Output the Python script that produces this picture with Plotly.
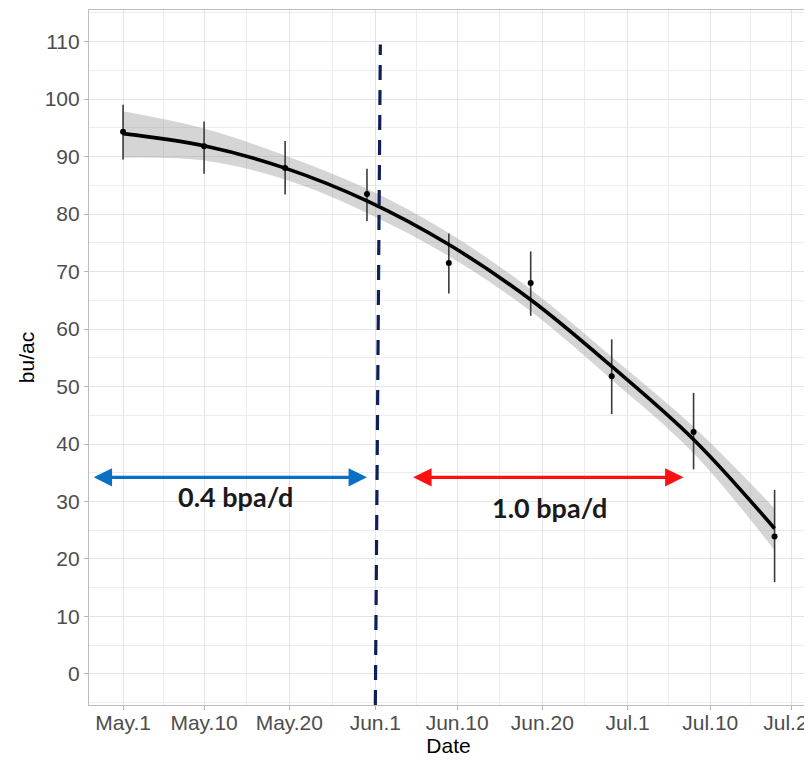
import plotly.graph_objects as go

# ---- data (x = nominal days after May 1, positions) ----
tick_pos = [0, 9.7, 19.9, 30.2, 40.0, 50.2, 60.4, 70.3, 80.0]
tick_labels = ["May.1", "May.10", "May.20", "Jun.1", "Jun.10", "Jun.20", "Jul.1", "Jul.10", "Jul.20"]
minor_pos = [4.85, 14.8, 25.05, 35.1, 45.1, 55.3, 65.35, 75.15]

obs_x = [0, 9.7, 19.4, 29.2, 39.0, 48.8, 58.5, 68.3, 78.0]
obs_y = [94.3, 91.8, 88.0, 83.5, 71.5, 68.0, 51.8, 42.1, 23.9]
obs_lo = [89.5, 87.0, 83.4, 78.8, 66.2, 62.3, 45.2, 35.6, 16.0]
obs_hi = [99.0, 96.1, 92.7, 87.9, 76.6, 73.5, 58.2, 48.9, 32.0]

fit_x = [0, 9.7, 19.4, 29.2, 39.0, 48.8, 58.5, 68.3, 78.0]
fit_y = [94.0, 91.9, 88.0, 82.3, 74.7, 65.1, 53.5, 40.8, 25.3]
fit_lo = [89.8, 89.3, 86.0, 80.2, 72.7, 63.1, 51.2, 38.4, 21.5]
fit_hi = [97.9, 94.9, 90.2, 84.4, 76.7, 66.9, 55.2, 43.0, 28.8]

break_x = [30.2, 30.8]      # dashed line, bottom / top
break_y = [-5.4, 109.5]
arrow_y = 34.2
blue_span = [-3.7, 29.2]
red_span = [34.55, 67.1]
rate_labels = ["0.4 bpa/d", "1.0 bpa/d"]
rate_label_x = [13.5, 51.1]
rate_label_y = [30.8, 28.9]

x_range = [-4.08, 82.0]
y_range = [-5.4, 115.5]

fig = go.Figure()

# confidence band
fig.add_trace(go.Scatter(x=fit_x, y=fit_lo, mode="lines", line=dict(width=0, shape="spline"),
                         hoverinfo="skip"))
fig.add_trace(go.Scatter(x=fit_x, y=fit_hi, mode="lines", line=dict(width=0, shape="spline"),
                         fill="tonexty", fillcolor="rgba(150,150,150,0.40)", hoverinfo="skip"))

# observations with error bars
fig.add_trace(go.Scatter(
    x=obs_x, y=obs_y, mode="markers",
    marker=dict(color="black", size=6),
    error_y=dict(type="data", symmetric=False,
                 array=[h - y for h, y in zip(obs_hi, obs_y)],
                 arrayminus=[y - l for l, y in zip(obs_lo, obs_y)],
                 color="#3a3a3a", thickness=1.6, width=0)))

# fitted curve
fig.add_trace(go.Scatter(x=fit_x, y=fit_y, mode="lines",
                         line=dict(color="black", width=3.6, shape="spline")))

# dashed vertical line
fig.add_shape(type="line", xref="x", yref="y",
              x0=break_x[0], x1=break_x[1], y0=break_y[0], y1=break_y[1],
              line=dict(color="#0f1f5a", width=3.2, dash="15px,10px"))

# double-headed arrows
for span, col in [(blue_span, "#0a70c4"), (red_span, "#ff1010")]:
    fig.add_annotation(x=span[1], y=arrow_y, ax=span[0], ay=arrow_y,
                       xref="x", yref="y", axref="x", ayref="y",
                       text="", showarrow=True, arrowside="end+start",
                       arrowhead=2, arrowsize=1.15, arrowwidth=3.2, arrowcolor=col,
                       standoff=0, startstandoff=0)

for t, tx, ty in zip(rate_labels, rate_label_x, rate_label_y):
    fig.add_annotation(x=tx, y=ty, xref="x", yref="y", text="<b>" + t + "</b>",
                       showarrow=False, font=dict(family="Lato, Open Sans, sans-serif",
                                                  size=27, color="#1a1a1a"))

axis_common = dict(showline=True, linecolor="#bdbdbd", linewidth=1.2, mirror=True,
                   showgrid=True, gridcolor="#e4e4e4", gridwidth=1.2,
                   ticks="outside", ticklen=4, tickcolor="#b5b5b5", tickwidth=1,
                   zeroline=False, ticklabeloverflow="allow",
                   tickfont=dict(family="Liberation Sans, Arial", size=21, color="#4d4d4d"))

fig.update_xaxes(range=x_range, tickmode="array", tickvals=tick_pos, ticktext=tick_labels,
                 minor=dict(tickmode="array", tickvals=minor_pos, showgrid=True,
                            gridcolor="#ececec", gridwidth=1),
                 ticklabelstandoff=-5,
                 title=dict(text="Date", standoff=2,
                            font=dict(family="Liberation Sans, Arial", size=21, color="black")),
                 **axis_common)
fig.update_yaxes(range=y_range, tickmode="array", tickvals=list(range(0, 111, 10)),
                 minor=dict(dtick=5, showgrid=True, gridcolor="#ececec", gridwidth=1),
                 title=dict(text="bu/ac", standoff=4,
                            font=dict(family="Liberation Sans, Arial", size=21, color="black")),
                 **axis_common)

# the page body adds an 8px offset, so the figure is sized to fit inside it
fig.update_layout(width=804, height=753,
                  margin=dict(l=81, r=4, t=2, b=56, autoexpand=False),
                  paper_bgcolor="white", plot_bgcolor="white", showlegend=False)

fig.write_html("out.html")
